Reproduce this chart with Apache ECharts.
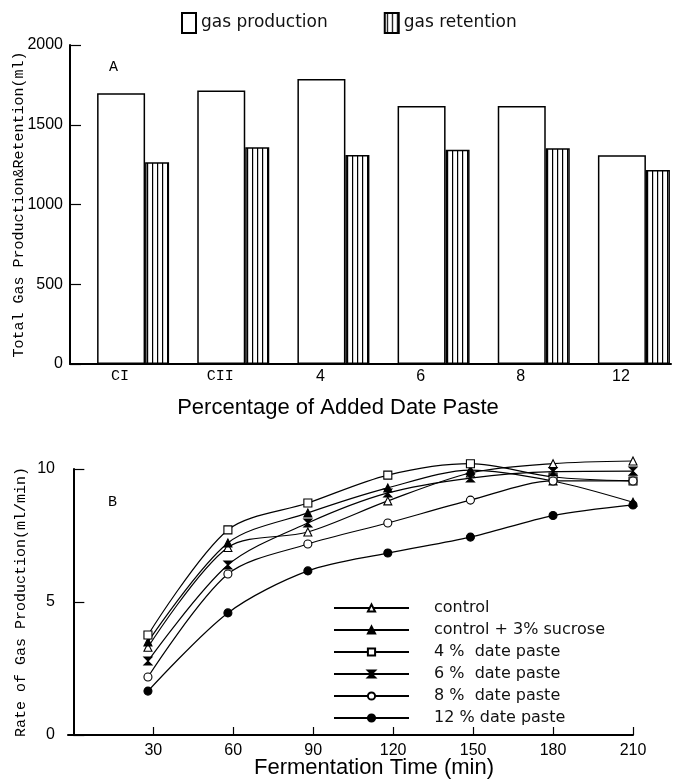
<!DOCTYPE html>
<html>
<head>
<meta charset="utf-8">
<script src="https://cdn.jsdelivr.net/npm/echarts@6/dist/echarts.min.js"></script>
<style>html,body{margin:0;padding:0;background:#fff;}#c{width:681px;height:780px;}</style>
</head>
<body>
<div id="c"></div>
<script>
// ---- Panel A data ----
const categories = ['CI', 'CII', '4', '6', '8', '12'];
const gasProduction = [1697, 1714, 1787, 1618, 1618, 1308];
const gasRetention = [1265, 1359, 1310, 1344, 1352, 1216];

// ---- Panel B data ----
const times = [28, 58, 88, 118, 149, 180, 210];
const xTicksB = [30, 60, 90, 120, 150, 180, 210];
const control = [3.3, 7.05, 7.63, 8.8, 9.85, 10.2, 10.3];
const sucrose = [3.5, 7.22, 8.35, 9.29, 9.96, 9.55, 8.75];
const paste4 = [3.76, 7.71, 8.72, 9.77, 10.2, 9.7, 9.55];
const paste6 = [2.78, 6.39, 7.97, 9.1, 9.66, 9.9, 9.92];
const paste8 = [2.18, 6.05, 7.18, 7.97, 8.83, 9.55, 9.55];
const paste12 = [1.65, 4.59, 6.17, 6.84, 7.44, 8.25, 8.65];
const lineNames = ['control', 'control + 3% sucrose', '4 %  date paste', '6 %  date paste', '8 %  date paste', '12 % date paste'];

const pc = document.createElement('canvas');
pc.width = 5; pc.height = 10;
const pctx = pc.getContext('2d');
pctx.fillStyle = '#fff'; pctx.fillRect(0, 0, 5, 10);
pctx.fillStyle = '#000'; pctx.fillRect(2, 0, 1.2, 10);
const hatch = { image: pc, repeat: 'repeat' };

const MONO = 'Liberation Mono';
const SANS = 'Liberation Sans';
const LEG = 'DejaVu Sans';

function pairs(ys) { return times.map((t, i) => [t, ys[i]]); }

const lineStyle = { color: '#000', width: 1.2 };
function lineSeries(name, ys, symbol, filled) {
  return {
    name: name, type: 'line', xAxisIndex: 1, yAxisIndex: 1,
    data: pairs(ys), smooth: 0.3, symbol: symbol, symbolSize: 8, clip: false,
    lineStyle: lineStyle,
    itemStyle: { color: filled ? '#000' : '#fff', borderColor: '#000', borderWidth: 1.1 },
    emphasis: { disabled: true }
  };
}

const chart = echarts.init(document.getElementById('c'));
chart.setOption({
  animation: false,
  backgroundColor: '#fff',
  legend: [
    {
      data: [{ name: 'gas production', icon: 'rect' }, { name: 'gas retention', icon: 'rect' }],
      left: 181, top: 12, padding: 0, itemWidth: 14, itemHeight: 20, itemGap: 56,
      textStyle: { fontFamily: LEG, fontSize: 17, color: '#111' },
      selectedMode: false
    },
    {
      data: lineNames, orient: 'vertical',
      left: 328, top: 595, itemWidth: 75, itemHeight: 9, itemGap: 6,
      textStyle: { fontFamily: LEG, fontSize: 16, color: '#111', lineHeight: 16, padding: [0, 0, 0, 20] },
      selectedMode: false
    }
  ],
  grid: [
    { left: 70, top: 45, width: 601, height: 319, outerBoundsMode: 'none', containLabel: false },
    { left: 68, top: 469, width: 565, height: 266, outerBoundsMode: 'none', containLabel: false }
  ],
  xAxis: [
    {
      type: 'category', gridIndex: 0, data: categories,
      axisLine: { lineStyle: { color: '#000', width: 2 } },
      axisTick: { show: false },
      axisLabel: {
        color: '#000', fontFamily: SANS, fontSize: 16, margin: 5,
        formatter: v => (v === 'CI' || v === 'CII') ? '{m|' + v + '}' : v,
        rich: { m: { fontFamily: MONO, fontSize: 15, color: '#000' } }
      },
      splitLine: { show: false }
    },
    {
      type: 'value', gridIndex: 1, min: -2, max: 210,
      axisLine: { lineStyle: { color: '#000', width: 2 } },
      axisTick: { inside: true, length: 8, customValues: xTicksB, lineStyle: { color: '#000', width: 1.2 } },
      axisLabel: { customValues: xTicksB, color: '#000', fontFamily: SANS, fontSize: 16, margin: 8 },
      splitLine: { show: false }
    }
  ],
  yAxis: [
    {
      type: 'value', gridIndex: 0, min: 0, max: 2000, interval: 500,
      name: 'Total Gas Production&Retention(ml)', nameLocation: 'middle', nameGap: 43, nameMoveOverlap: false,
      nameTextStyle: { fontFamily: MONO, fontSize: 15, color: '#000' },
      axisLine: { show: true, lineStyle: { color: '#000', width: 2 } },
      axisTick: { show: true, inside: true, length: 11, lineStyle: { color: '#000', width: 1.2 } },
      axisLabel: { color: '#000', fontFamily: SANS, fontSize: 16, margin: 7, formatter: v => String(v) },
      splitLine: { show: false }
    },
    {
      type: 'value', gridIndex: 1, min: 0, max: 10, interval: 5,
      name: 'Rate of Gas Production(ml/min)', nameLocation: 'middle', nameGap: 39, nameMoveOverlap: false,
      nameTextStyle: { fontFamily: MONO, fontSize: 15, color: '#000' },
      axisLine: { show: true, lineStyle: { color: '#000', width: 2 } },
      axisTick: { show: true, inside: true, length: 11, lineStyle: { color: '#000', width: 1.2 } },
      axisLabel: { color: '#000', fontFamily: SANS, fontSize: 16, margin: 13, formatter: v => String(v) },
      splitLine: { show: false }
    }
  ],
  graphic: [
    { type: 'text', left: 109, top: 60, style: { text: 'A', font: '15px "Liberation Mono"', fill: '#000' } },
    { type: 'text', left: 108, top: 495, style: { text: 'B', font: '15px "Liberation Mono"', fill: '#000' } },
    { type: 'text', x: 338, y: 408, style: { text: 'Percentage of Added Date Paste', font: '22px "Liberation Sans"', fill: '#000', align: 'center', verticalAlign: 'middle' } },
    { type: 'text', x: 374, y: 768, style: { text: 'Fermentation Time (min)', font: '22px "Liberation Sans"', fill: '#000', align: 'center', verticalAlign: 'middle' } }
  ],
  series: [
    { name: 'spacer', type: 'bar', xAxisIndex: 0, yAxisIndex: 0, data: categories.map(() => '-'), barWidth: 26, barGap: '0%', silent: true },
    {
      name: 'gas production', type: 'bar', xAxisIndex: 0, yAxisIndex: 0, data: gasProduction,
      barWidth: 48, barGap: '0%',
      itemStyle: { color: '#fff', borderColor: '#000', borderWidth: 1.5 },
      emphasis: { disabled: true }
    },
    {
      name: 'gas retention', type: 'bar', xAxisIndex: 0, yAxisIndex: 0, data: gasRetention,
      barWidth: 24, barGap: '0%',
      itemStyle: { color: hatch, borderColor: '#000', borderWidth: 1.5 },
      emphasis: { disabled: true }
    },
    lineSeries(lineNames[0], control, 'triangle', false),
    lineSeries(lineNames[1], sucrose, 'triangle', true),
    lineSeries(lineNames[2], paste4, 'rect', false),
    lineSeries(lineNames[3], paste6, 'path://M0,0L10,0L0,10L10,10Z', true),
    lineSeries(lineNames[4], paste8, 'circle', false),
    lineSeries(lineNames[5], paste12, 'circle', true)
  ]
});
</script>
</body>
</html>
